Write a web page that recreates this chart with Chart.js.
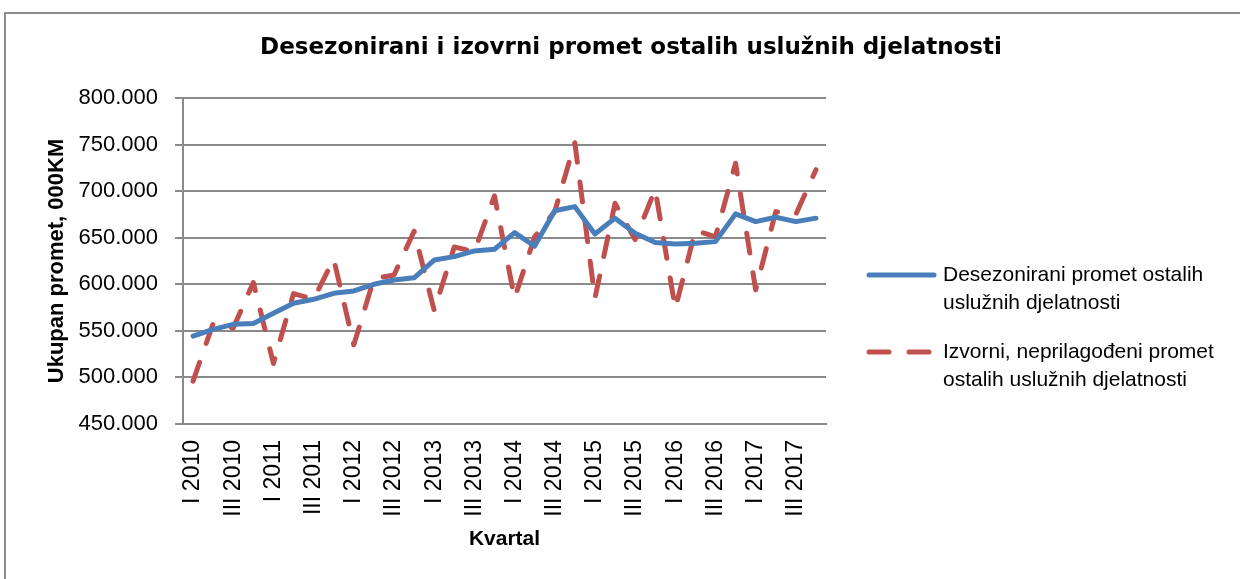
<!DOCTYPE html>
<html>
<head>
<meta charset="utf-8">
<script src="https://cdn.jsdelivr.net/npm/chart.js@4/dist/chart.umd.min.js"></script>
<style>
  html, body { margin: 0; padding: 0; background: #fff; overflow: hidden; }
  #wrap { position: relative; width: 1240px; height: 579px; }
  #frame { position: absolute; left: 4px; top: 12px; width: 1250px; height: 600px; border: 2px solid #8c8c8c; pointer-events: none; }
</style>
</head>
<body>
<div id="wrap">
  <canvas id="chart" width="1240" height="579"></canvas>
  <div id="frame"></div>
</div>
<script>
// kvartali I 2010 .. IV 2017
const years = [2010, 2011, 2012, 2013, 2014, 2015, 2016, 2017];
const quarters = ['I', 'II', 'III', 'IV'];
const categories = [];
years.forEach(y => quarters.forEach(q => categories.push(q + ' ' + y)));

// promet, 000KM
const desezonirani = [
  544400, 551600, 557000, 558000, 568800, 579600, 583900, 590300,
  592800, 600000, 604600, 607000, 626000, 629700, 635800, 637600,
  655500, 641000, 679000, 683400, 654000, 671000, 654800, 644800,
  643300, 644000, 645800, 675600, 667300, 672000, 667300, 671000
];
const izvorni = [
  496000, 558000, 553000, 602000, 515000, 590000, 584000, 627000,
  535000, 606000, 610000, 657000, 572000, 640000, 635000, 695000,
  585000, 651000, 678000, 752000, 585000, 687000, 648000, 702000,
  574000, 658000, 651000, 730000, 594000, 678000, 675000, 723000
];
const seriesNames = [
  ['Desezonirani promet ostalih', 'uslužnih djelatnosti'],
  ['Izvorni, neprilagođeni promet', 'ostalih uslužnih djelatnosti']
];
const chartTitle = 'Desezonirani i izovrni promet ostalih uslužnih djelatnosti';
const yTicks = { min: 450000, max: 800000, step: 50000 };

const blue = '#4a7ebb';
const red = '#c0504d';
const grid = '#8a8a8a';
const sans = "'Liberation Sans', Arial, sans-serif";

// naslov i legenda (legenda desno, tekst u dva reda)
const sideLegend = {
  id: 'sideLegend',
  afterDraw(chart) {
    const ctx = chart.ctx;
    ctx.save();
    ctx.fillStyle = '#000';
    ctx.textAlign = 'center';
    ctx.textBaseline = 'middle';
    ctx.font = "bold 23px 'DejaVu Sans', sans-serif";
    ctx.fillText(chartTitle, 631, 48);

    const x0 = chart.chartArea.right + 40;
    const rows = [275, 352];
    ctx.textAlign = 'left';
    chart.data.datasets.forEach((ds, i) => {
      const y = rows[i];
      ctx.beginPath();
      ctx.strokeStyle = ds.borderColor;
      ctx.lineWidth = ds.borderWidth;
      ctx.lineCap = 'round';
      ctx.setLineDash(ds.borderDash || []);
      ctx.moveTo(x0 + 3, y);
      ctx.lineTo(x0 + 68, y);
      ctx.stroke();
      ctx.setLineDash([]);
      ctx.font = '21px ' + sans;
      ds.legendText.forEach((t, k) => ctx.fillText(t, x0 + 77, y + k * 28));
    });
    ctx.restore();
  }
};

new Chart(document.getElementById('chart'), {
  type: 'line',
  data: {
    labels: categories,
    datasets: [{
      label: seriesNames[0].join(' '),
      legendText: seriesNames[0],
      data: desezonirani,
      borderColor: blue,
      backgroundColor: blue,
      borderWidth: 5,
      pointRadius: 0,
      tension: 0,
      borderJoinStyle: 'round',
      borderCapStyle: 'round'
    }, {
      label: seriesNames[1].join(' '),
      legendText: seriesNames[1],
      data: izvorni,
      borderColor: red,
      backgroundColor: red,
      borderWidth: 5,
      borderDash: [20, 20],
      pointRadius: 0,
      tension: 0,
      borderJoinStyle: 'round',
      borderCapStyle: 'round'
    }]
  },
  options: {
    responsive: false,
    animation: false,
    layout: { padding: { top: 98, right: 414, bottom: 0, left: 0 } },
    plugins: {
      legend: { display: false },
      tooltip: { enabled: false },
      title: { display: false }
    },
    scales: {
      x: {
        offset: true,
        grid: { display: false, drawTicks: false },
        border: { display: true, color: grid, width: 2 },
        afterFit: s => { s.height = 155; },
        ticks: {
          autoSkip: false,
          minRotation: 90,
          maxRotation: 90,
          padding: 16,
          color: '#000',
          font: { family: sans, size: 23 },
          callback: function (v, i) { return i % 2 === 0 ? this.getLabelForValue(v) : ''; }
        },
        title: {
          display: true,
          text: 'Kvartal',
          color: '#000',
          font: { family: sans, size: 21, weight: 'bold', lineHeight: 1.2 },
          padding: { top: 0, bottom: 27 }
        }
      },
      y: {
        min: yTicks.min,
        max: yTicks.max,
        afterFit: s => { s.width = 183; },
        grid: { color: grid, lineWidth: 2, tickLength: 8 },
        border: { display: true, color: grid, width: 2 },
        ticks: {
          stepSize: yTicks.step,
          padding: 17,
          color: '#000',
          font: { family: sans, size: 22 },
          callback: v => v.toLocaleString('de-DE', { minimumFractionDigits: 0 })
        },
        title: {
          display: true,
          text: 'Ukupan promet, 000KM',
          color: '#000',
          font: { family: sans, size: 22, weight: 'bold', lineHeight: 1.2 },
          padding: { top: 44, bottom: 0 }
        }
      }
    }
  },
  plugins: [sideLegend]
});
</script>
</body>
</html>
